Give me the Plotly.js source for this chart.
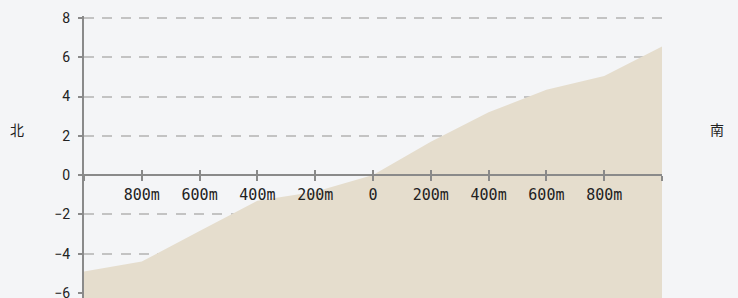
<!DOCTYPE html>
<html>
<head>
<meta charset="utf-8">
<script src="https://cdn.plot.ly/plotly-3.0.1.min.js"></script>
<style>html,body{margin:0;padding:0;background:#f4f5f7;}#chart{width:738px;height:298px;}</style>
</head>
<body>
<div id="chart"></div>
<script>
// Distance along the section (m), negative = north side, positive = south side
const distances = [-1000, -800, -600, -400, -200, 0, 200, 400, 600, 800, 1000];
// Relative elevation at each distance
const elevations = [-4.9, -4.4, -2.85, -1.3, -0.85, 0.0, 1.7, 3.2, 4.35, 5.05, 6.55];
// X tick labels
const xTickVals = [-1000, -800, -600, -400, -200, 0, 200, 400, 600, 800, 1000];
const xTickText = ['', '800m', '600m', '400m', '200m', '0', '200m', '400m', '600m', '800m', ''];
// Y ticks
const yTickVals = [-6, -4, -2, 0, 2, 4, 6, 8];
// Side labels
const northLabel = '北';
const southLabel = '南';

const yRange = [-6.255, 8.1];
const zeroPos = (0 - yRange[0]) / (yRange[1] - yRange[0]);
const axisGray = '#8a8a8a';

const traces = [
  {
    x: distances.concat([distances[distances.length - 1], distances[0]]),
    y: elevations.concat([yRange[0], yRange[0]]),
    type: 'scatter', mode: 'lines',
    fill: 'toself', fillcolor: '#e5ddcd', line: {width: 0, color: '#e5ddcd'},
    hoverinfo: 'skip', xaxis: 'x', yaxis: 'y'
  },
  {
    x: distances, y: elevations, type: 'scatter', mode: 'lines',
    line: {width: 0, color: 'rgba(0,0,0,0)'}, hoverinfo: 'skip', xaxis: 'x2', yaxis: 'y'
  }
];

const xCommon = {
  range: [-1000, 1000],
  tickmode: 'array', tickvals: xTickVals,
  anchor: 'free', position: zeroPos,
  showgrid: false, zeroline: false,
  tickcolor: axisGray, tickwidth: 2, ticklen: 5
};

const layout = {
  width: 738, height: 298,
  margin: {l: 84, r: 76, t: 16, b: 0},
  paper_bgcolor: '#f4f5f7', plot_bgcolor: '#f4f5f7',
  showlegend: false,
  xaxis: Object.assign({}, xCommon, {
    ticktext: xTickText, ticks: 'outside',
    showline: true, linecolor: axisGray, linewidth: 2,
    tickfont: {family: 'DejaVu Sans Mono', size: 15, color: '#222'},
    ticklabelstandoff: 1
  }),
  xaxis2: Object.assign({}, xCommon, {
    overlaying: 'x', matches: 'x', ticks: 'inside',
    showticklabels: false, showline: false
  }),
  yaxis: {
    range: yRange, tickmode: 'array', tickvals: yTickVals,
    showline: true, linecolor: axisGray, linewidth: 2,
    ticks: 'outside', ticklen: 4, tickwidth: 2, tickcolor: axisGray,
    showgrid: true, gridcolor: '#c3c3c3', gridwidth: 2, griddash: '10px,8.33px',
    zeroline: false,
    tickfont: {family: 'Roboto', size: 14, color: '#222'},
    ticklabelstandoff: 5, ticklabeloverflow: 'allow'
  },
  annotations: [
    {text: northLabel, xref: 'paper', yref: 'paper', x: (17 - 84) / 578, y: 0.6,
     xanchor: 'center', yanchor: 'middle',
     showarrow: false, font: {family: 'Noto Sans CJK SC', size: 14, color: '#222'}},
    {text: southLabel, xref: 'paper', yref: 'paper', x: (717 - 84) / 578, y: 0.6,
     xanchor: 'center', yanchor: 'middle',
     showarrow: false, font: {family: 'Noto Sans CJK SC', size: 14, color: '#222'}}
  ]
};

Plotly.newPlot('chart', traces, layout, {staticPlot: true, displayModeBar: false});
</script>
</body>
</html>
